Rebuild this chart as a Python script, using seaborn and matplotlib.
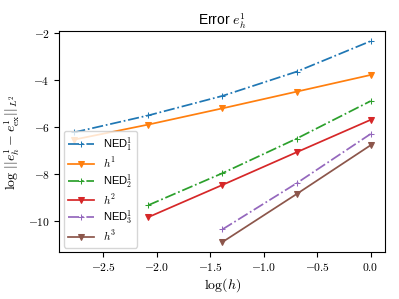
import numpy as np
import pandas as pd
import matplotlib
matplotlib.use("Agg")
import matplotlib.pyplot as plt
import seaborn as sns
from matplotlib.ticker import FuncFormatter

log_h = [-2.773, -2.079, -1.386, -0.693, 0.0]

ned1 = [-6.21, -5.49, -4.66, -3.63, -2.33]
h1 = [-6.52, -5.88, -5.19, -4.48, -3.77]
ned2 = [-9.31, -7.95, -6.48, -4.88]
h2 = [-9.82, -8.45, -7.06, -5.68]
ned3 = [-10.34, -8.38, -6.28]
h3 = [-10.88, -8.84, -6.76]

labels = [r"NED$_1^1$", r"$h^1$", r"NED$_2^1$", r"$h^2$", r"NED$_3^1$", r"$h^3$"]
series = [ned1, h1, ned2, h2, ned3, h3]

plt.rcParams["mathtext.fontset"] = "cm"
plt.rcParams["font.family"] = ["Liberation Sans", "DejaVu Sans"]

fig, ax = plt.subplots(figsize=(3.99, 2.99), dpi=100)
fig.subplots_adjust(left=0.149, right=0.966, top=0.896, bottom=0.157)

colors = sns.color_palette("tab10")
for i, (lab, vals) in enumerate(zip(labels, series)):
    xs = log_h[len(log_h) - len(vals):]
    df = pd.DataFrame({"x": xs, "y": vals})
    is_ned = lab.startswith("NED")
    sns.lineplot(data=df, x="x", y="y", ax=ax, color=colors[i], label=lab,
                 marker="+" if is_ned else "v",
                 linestyle="-." if is_ned else "-",
                 markeredgecolor=colors[i], markersize=4.8, linewidth=1.25)

ax.xaxis.set_major_formatter(FuncFormatter(lambda v, p: r"$%.1f$" % v))
ax.yaxis.set_major_formatter(FuncFormatter(lambda v, p: r"$%d$" % round(v)))
ax.set_xticks([-2.5, -2.0, -1.5, -1.0, -0.5, 0.0])
ax.set_yticks([-10, -8, -6, -4, -2])
ax.tick_params(labelsize=8.3, length=3.5, width=0.8)
ax.set_xlabel(r"$\log(h)$", fontsize=10, labelpad=2)
ax.set_ylabel(r"$\log\,||e_h^1 - e_{\rm ex}^1||_{L^2}$", fontsize=10)
ax.set_title(r"Error $e_h^1$", fontsize=10, pad=4)
ax.legend(loc="lower left", fontsize=8, labelspacing=0.2, handlelength=2.3,
          borderaxespad=0.4)
fig.savefig("out.png", dpi=100)
